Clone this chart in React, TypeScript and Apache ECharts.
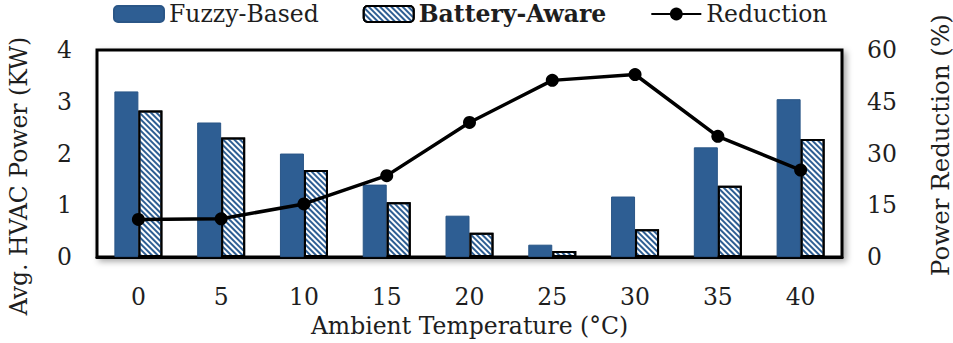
import React, { useEffect, useRef } from "react";
import * as echarts from "echarts";

// Ambient temperature steps (°C)
const temperatures = ["0", "5", "10", "15", "20", "25", "30", "35", "40"];
// Average HVAC power (kW) per controller
const fuzzyBased = [3.2, 2.6, 2.0, 1.4, 0.8, 0.24, 1.17, 2.12, 3.05];
const batteryAware = [2.83, 2.31, 1.68, 1.06, 0.47, 0.12, 0.54, 1.38, 2.28];
// Power reduction of the battery-aware controller (%)
const reduction = [10.9, 11.1, 15.4, 23.6, 39.0, 51.2, 52.9, 35.0, 25.2];

const FONT = "DejaVu Serif";
const FONT_SIZE = 23.5;
const BLUE = "#2E5E93";
const INK = "#1e1e1e";

export default function App() {
  const ref = useRef<HTMLDivElement>(null);

  useEffect(() => {
    document.body.style.margin = "0";
    if (!ref.current) return;
    const chart = echarts.init(ref.current, undefined, { renderer: "svg" });
    const txt = { fontFamily: FONT, fontSize: FONT_SIZE, color: INK };
    chart.setOption({
      animation: false,
      backgroundColor: "#fff",
      textStyle: { fontFamily: FONT },
      grid: {
        left: 97,
        right: 111,
        top: 50,
        bottom: 82,
        show: true,
        backgroundColor: "#fff",
        borderColor: "#000",
        borderWidth: 3,
        shadowColor: "rgba(0,0,0,0.35)",
        shadowBlur: 6,
        shadowOffsetX: 3,
        shadowOffsetY: 3,
      },
      legend: {
        left: 108,
        top: 0,
        padding: [2, 5, 5, 5],
        itemWidth: 50,
        itemHeight: 16,
        itemGap: 44,
        textStyle: { ...txt },
        data: [
          { name: "Fuzzy-Based" },
          { name: "Battery-Aware", textStyle: { fontWeight: "bold" } },
          { name: "Reduction" },
        ],
      },
      xAxis: {
        type: "category",
        data: temperatures,
        name: "Ambient Temperature (°C)",
        nameLocation: "middle",
        nameGap: 55,
        nameTextStyle: { ...txt },
        axisLine: { show: true, lineStyle: { color: "#000", width: 3 } },
        axisTick: { show: false },
        axisLabel: { ...txt, margin: 28 },
      },
      yAxis: [
        {
          type: "value",
          min: 0,
          max: 4,
          interval: 1,
          axisLine: { show: false },
          axisTick: { show: false },
          splitLine: { show: false },
          axisLabel: { ...txt, margin: 25 },
        },
        {
          type: "value",
          min: 0,
          max: 60,
          interval: 15,
          axisLine: { show: false },
          axisTick: { show: false },
          splitLine: { show: false },
          axisLabel: { ...txt, margin: 25 },
        },
      ],
      graphic: [
        {
          type: "text",
          x: 19,
          y: 176,
          rotation: Math.PI / 2,
          style: {
            text: "Avg. HVAC Power (KW)",
            fontFamily: FONT,
            fontSize: FONT_SIZE,
            fill: INK,
            align: "center",
            verticalAlign: "middle",
          },
        },
        {
          type: "text",
          x: 940,
          y: 276,
          rotation: Math.PI / 2,
          style: {
            text: "Power Reduction (%)",
            fontFamily: FONT,
            fontSize: 24.5,
            fill: INK,
            align: "left",
            verticalAlign: "middle",
          },
        },
      ],
      series: [
        {
          name: "Fuzzy-Based",
          type: "bar",
          data: fuzzyBased,
          barWidth: 24,
          barGap: "0%",
          itemStyle: { color: BLUE, borderColor: "#2A5687", borderWidth: 1 },
        },
        {
          name: "Battery-Aware",
          type: "bar",
          data: batteryAware,
          barWidth: 24,
          barGap: "0%",
          itemStyle: {
            color: "#fff",
            borderColor: "#000",
            borderWidth: 2,
            decal: {
              symbol: "rect",
              symbolSize: 1,
              dashArrayX: [1, 0],
              dashArrayY: [1.8, 1.3],
              rotation: Math.PI / 4,
              color: BLUE,
            },
          },
        },
        {
          name: "Reduction",
          type: "line",
          yAxisIndex: 1,
          data: reduction,
          symbol: "circle",
          symbolSize: 13,
          lineStyle: { color: "#000", width: 3.5 },
          itemStyle: { color: "#000" },
          z: 5,
        },
      ],
    });
    return () => chart.dispose();
  }, []);

  return <div ref={ref} style={{ width: 953, height: 343 }} />;
}
